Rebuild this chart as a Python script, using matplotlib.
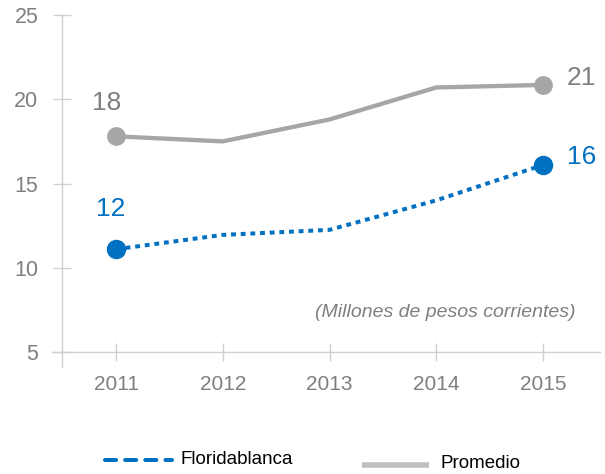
import matplotlib
matplotlib.use("Agg")
import matplotlib.pyplot as plt
from matplotlib.lines import Line2D
from matplotlib import font_manager

names = {f.name for f in font_manager.fontManager.ttflist}
FONT = "Liberation Sans Narrow" if "Liberation Sans Narrow" in names else "Liberation Sans"
plt.rcParams["font.family"] = [FONT, "DejaVu Sans"]

years = [2011, 2012, 2013, 2014, 2015]
floridablanca = [11.1, 11.95, 12.25, 14.0, 16.1]
promedio = [17.8, 17.5, 18.8, 20.7, 20.85]
flo_labels = ["12", "16"]
pro_labels = ["18", "21"]
yticks = [5, 10, 15, 20, 25]

BLUE = "#0070C0"
GRAY = "#A6A6A6"
TXT = "#7F7F7F"
AX = "#D0D0D0"

fig = plt.figure(figsize=(6.05, 4.74), dpi=100)
ax = fig.add_axes([52 / 605, 1 - 367 / 474, 548 / 605, 352 / 474])
ax.set_xlim(2010.400, 2015.534)
ax.set_ylim(4.110, 25)

ax.plot(years, promedio, color=GRAY, lw=3.1, solid_capstyle="butt", zorder=3)
ax.plot([years[0], years[-1]], [promedio[0], promedio[-1]], ls="none",
        marker="o", ms=12.5, color=GRAY, zorder=4)
ax.plot(years, floridablanca, color=BLUE, lw=2.9, dashes=(1.2, 1.2),
        dash_capstyle="butt", zorder=3)
ax.plot([years[0], years[-1]], [floridablanca[0], floridablanca[-1]], ls="none",
        marker="o", ms=13, color=BLUE, zorder=4)

px = 0.72
ax.annotate(pro_labels[0], (years[0], promedio[0]), xytext=(-9 * px, 33 * px),
            textcoords="offset points", ha="center", va="center", fontsize=19, color=TXT)
ax.annotate(pro_labels[1], (years[-1], promedio[-1]), xytext=(24 * px, 7 * px),
            textcoords="offset points", ha="left", va="center", fontsize=19, color=TXT)
ax.annotate(flo_labels[0], (years[0], floridablanca[0]), xytext=(-5 * px, 40 * px),
            textcoords="offset points", ha="center", va="center", fontsize=19, color=BLUE)
ax.annotate(flo_labels[1], (years[-1], floridablanca[-1]), xytext=(24 * px, 8 * px),
            textcoords="offset points", ha="left", va="center", fontsize=19, color=BLUE)

for s in ["top", "right"]:
    ax.spines[s].set_visible(False)
ax.spines["left"].set_position(("data", 2010.494))
ax.spines["bottom"].set_position(("data", 5))
for s in ["left", "bottom"]:
    ax.spines[s].set_color(AX)
    ax.spines[s].set_linewidth(1.0)

ax.set_xticks(years)
ax.set_xticklabels([str(y) for y in years])
ax.set_yticks(yticks)
ax.tick_params(axis="x", direction="inout", length=12.5, width=1.0, color=AX,
               labelsize=15, labelcolor=TXT, pad=10)
ax.tick_params(axis="y", direction="inout", length=13, width=1.0, color=AX,
               labelsize=15.5, labelcolor=TXT, pad=10.5)

ax.text(0.955, 0.155, "(Millones de pesos corrientes)", transform=ax.transAxes,
        ha="right", va="center", fontsize=14, style="italic", color=TXT)

# legend
W, H = 605, 474
fig.add_artist(Line2D([105 / W, 172 / W], [1 - 460 / H, 1 - 460 / H], color=BLUE,
                      lw=2.9, dashes=(2.75, 2.25), dash_capstyle="round",
                      transform=fig.transFigure))
fig.text(180 / W, 1 - 459 / H, "Floridablanca", ha="left", va="center",
         fontsize=13.5, color="black")
fig.add_artist(Line2D([362 / W, 429 / W], [1 - 465 / H, 1 - 465 / H], color="#BFBFBF",
                      lw=4.0, solid_capstyle="butt", transform=fig.transFigure))
fig.text(440 / W, 1 - 463 / H, "Promedio", ha="left", va="center",
         fontsize=13.5, color="black")

fig.savefig("out.png", dpi=100)
